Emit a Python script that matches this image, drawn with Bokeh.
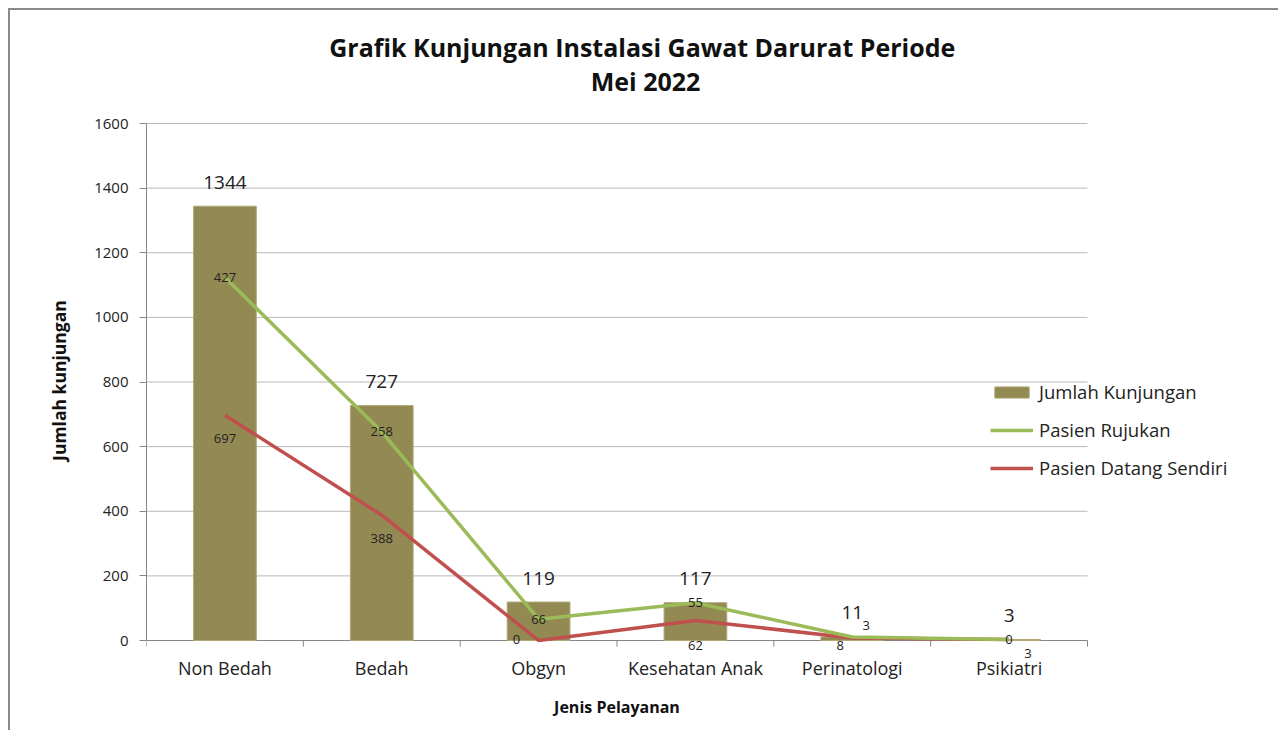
from bokeh.plotting import figure
from bokeh.models import ColumnDataSource, FixedTicker, Legend, LegendItem
from bokeh.core.properties import value
from bokeh.embed import file_html
from bokeh.resources import INLINE

categories = ["Non Bedah", "Bedah", "Obgyn", "Kesehatan Anak", "Perinatologi", "Psikiatri"]
jumlah_kunjungan = [1344, 727, 119, 117, 11, 3]
pasien_rujukan = [427, 258, 66, 55, 3, 0]
pasien_datang_sendiri = [697, 388, 0, 62, 8, 3]
y_ticks = [0, 200, 400, 600, 800, 1000, 1200, 1400, 1600]
title_lines = ["Grafik  Kunjungan Instalasi Gawat Darurat Periode", "Mei 2022"]

# screen-pixel nudges of the small data labels (as laid out in the original)
rujukan_label_dx = [0, 0, 0, 0, 14, 0]
rujukan_label_dy = [0, 0, 0, 0, -11, 0]
datang_label_dx = [0, 0, -22, 0, -12, 19]
datang_label_dy = [23, 23, -1, 25, 8, 14]

FONT = "Open Sans"
n = len(categories)
xs = [i + 0.5 for i in range(n)]
green_y = [a + b for a, b in zip(pasien_rujukan, pasien_datang_sendiri)]
y_top = y_ticks[-1]

# layout in page pixels
FIG_W, FIG_H = 1270, 722
ORIGIN_X, ORIGIN_Y = 10, 10
LEFT = 136
frame_left = ORIGIN_X + LEFT
frame_right = ORIGIN_X + FIG_W - 8
frame_top, frame_bottom = ORIGIN_Y, ORIGIN_Y + FIG_H
axis_top_px, axis_zero_px, axis_right_px = 123, 640, 1087
cat_px = (axis_right_px - frame_left) / n
ppu = (axis_zero_px - axis_top_px) / y_top
x_max = (frame_right - frame_left) / cat_px
y_min = -(frame_bottom - axis_zero_px) / ppu
y_max = y_top + (axis_top_px - frame_top) / ppu

src = ColumnDataSource(dict(
    x=xs, cat=categories, jumlah=jumlah_kunjungan,
    jl=[str(v) for v in jumlah_kunjungan],
    gy=green_y, gl=[str(v) for v in pasien_rujukan],
    ry=pasien_datang_sendiri, rl=[str(v) for v in pasien_datang_sendiri],
    zero=[0] * n,
    gdx=rujukan_label_dx, gdy=rujukan_label_dy, rdx=datang_label_dx, rdy=datang_label_dy,
))

p = figure(width=FIG_W, height=FIG_H, output_backend="svg", toolbar_location=None,
           x_range=(0, x_max), y_range=(y_min, y_max), x_axis_location=None,
           min_border_left=LEFT, min_border_right=8, min_border_top=0, min_border_bottom=0)
p.styles = {"border-top": "2px solid #8a8a8a", "border-left": "2px solid #8a8a8a",
            "margin-left": "8px", "margin-top": "8px"}
p.outline_line_color = None
p.xgrid.grid_line_color = None
p.ygrid.grid_line_color = None

# gridlines and x axis over the category span
p.segment(x0=[0] * (len(y_ticks) - 1), x1=[n] * (len(y_ticks) - 1), y0=y_ticks[1:], y1=y_ticks[1:],
          line_color="#b8b8b8", line_width=1)
p.segment(x0=[0], x1=[n], y0=[0], y1=[0], line_color="#868686", line_width=1)
bounds_x = list(range(0, n + 1))
p.segment(x0=bounds_x, x1=bounds_x, y0=[0] * (n + 1), y1=[-6 / ppu] * (n + 1),
          line_color="#868686", line_width=1)

bars = p.vbar(x="x", top="jumlah", width=0.4, source=src, fill_color="#938953",
              line_color="#b0a878", line_width=1)
rline = p.line(x="x", y="ry", source=src, line_color="#c0504d", line_width=3.5)
gline = p.line(x="x", y="gy", source=src, line_color="#9bbb59", line_width=3.5)

p.text(x="x", y="jumlah", text="jl", source=src, text_align="center", text_baseline="middle",
       y_offset=-24, text_font=value(FONT), text_font_size="19px", text_color="#222222")
p.text(x="x", y="gy", text="gl", source=src, text_align="center", text_baseline="middle",
       x_offset="gdx", y_offset="gdy",
       text_font=value(FONT), text_font_size="13px", text_color="#222222")
p.text(x="x", y="ry", text="rl", source=src, text_align="center", text_baseline="middle",
       x_offset="rdx", y_offset="rdy",
       text_font=value(FONT), text_font_size="13px", text_color="#222222")

# category labels and x axis title
p.text(x="x", y="zero", text="cat", source=src, text_align="center", text_baseline="middle",
       y_offset=27, text_font=value(FONT), text_font_size="18px", text_color="#222222")
p.text(x=[n / 2], y=[0], text=["Jenis Pelayanan"], text_align="center", text_baseline="middle",
       y_offset=66, text_font=value(FONT), text_font_style="bold", text_font_size="16px",
       text_color="#111111")

# title
title_cx = (645 - frame_left) / cat_px
p.text(x=[title_cx, title_cx], y=[y_top, y_top], text=title_lines, y_offset=[-77, -43],
       text_align="center", text_baseline="middle", text_font=value(FONT),
       text_font_style="bold", text_font_size="25px", text_color="#111111")

# y axis
p.yaxis.bounds = (0, y_top)
p.yaxis.ticker = FixedTicker(ticks=y_ticks)
p.yaxis.minor_tick_line_color = None
p.yaxis.major_tick_out = 7
p.yaxis.major_tick_in = 0
p.yaxis.axis_line_color = "#868686"
p.yaxis.major_tick_line_color = "#868686"
p.yaxis.major_label_text_font = FONT
p.yaxis.major_label_text_font_size = "15px"
p.yaxis.major_label_text_color = "#222222"
p.yaxis.major_label_standoff = 11
p.yaxis.axis_label = "Jumlah kunjungan" + "\u00a0" * 4
p.yaxis.axis_label_text_font = FONT
p.yaxis.axis_label_text_font_style = "bold"
p.yaxis.axis_label_text_font_size = "17.5px"
p.yaxis.axis_label_text_color = "#111111"
p.yaxis.axis_label_standoff = 20

legend = Legend(items=[LegendItem(label="Jumlah Kunjungan", renderers=[bars]),
                       LegendItem(label="Pasien Rujukan", renderers=[gline]),
                       LegendItem(label="Pasien Datang Sendiri", renderers=[rline])],
                location=(844, 252), background_fill_alpha=0, border_line_color=None,
                label_text_font=FONT, label_text_font_size="18.5px", label_text_color="#222222",
                glyph_width=43, glyph_height=14, spacing=13, label_standoff=6, padding=0,
                margin=0)
p.add_layout(legend, "center")

open("out.html", "w").write(file_html(p, INLINE))
